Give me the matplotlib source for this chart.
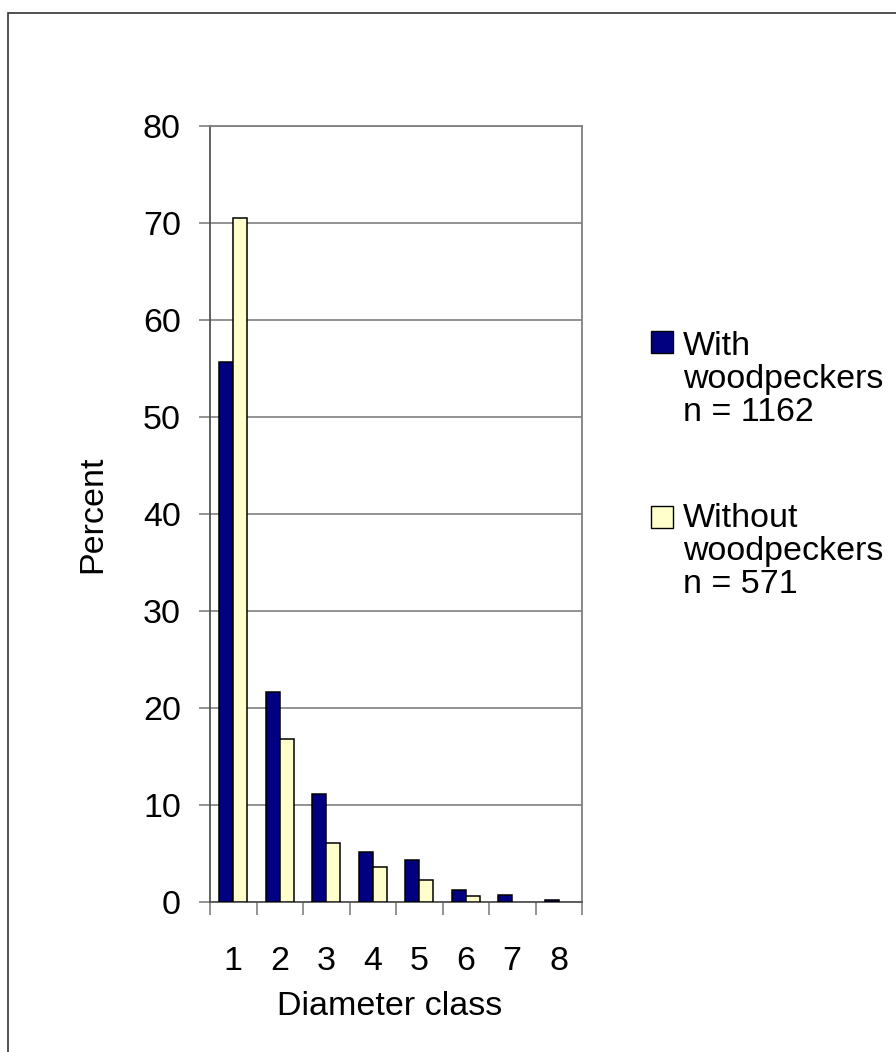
import numpy as np
import matplotlib.pyplot as plt
from matplotlib.patches import Rectangle

plt.rcParams['font.family'] = ['Liberation Sans', 'DejaVu Sans']

# Udział drzew w klasach średnicy (%)
classes = ['1', '2', '3', '4', '5', '6', '7', '8']
with_wp = [55.7, 21.7, 11.1, 5.2, 4.3, 1.2, 0.7, 0.2]
without_wp = [70.5, 16.8, 6.1, 3.6, 2.3, 0.65, 0.0, 0.0]
legend_labels = ['With\nwoodpeckers\nn = 1162', 'Without\nwoodpeckers\nn = 571']
yticks = [0, 10, 20, 30, 40, 50, 60, 70, 80]

navy = '#000080'
cream = '#FFFFCC'
grey = '#808080'
fs = 24.5

fig = plt.figure(figsize=(8.96, 10.52), dpi=100)
W, H = 896, 1052

# ramka wokół całego wykresu (ucięta z prawej i na dole)
fig.patches.append(Rectangle((8 / W, -0.1), 1.2, 1 - 12.5 / H + 0.1,
                             transform=fig.transFigure, fill=False,
                             edgecolor='#333333', lw=1.2))

ax = fig.add_axes([210 / W, 1 - 902 / H, 372 / W, 776 / H])

x = np.arange(len(classes))
w = 0.3
lw_a = [1.1 if v > 0 else 0 for v in with_wp]
lw_b = [1.1 if v > 0 else 0 for v in without_wp]
ax.bar(x - w / 2, with_wp, w, color=navy, edgecolor='black', lw=lw_a, zorder=3)
ax.bar(x + w / 2, without_wp, w, color=cream, edgecolor='black', lw=lw_b, zorder=3)

ax.set_xlim(-0.5, len(classes) - 0.5)
ax.set_ylim(0, 80)
ax.set_yticks(yticks)
ax.set_yticklabels([str(t) for t in yticks], fontsize=fs)
ax.set_xticks(x)
ax.set_xticklabels(classes, fontsize=fs)
ax.set_xticks(np.arange(len(classes) + 1) - 0.5, minor=True)

ax.tick_params(axis='x', which='major', length=0, pad=32)
ax.tick_params(axis='x', which='minor', length=9, width=1.2, color=grey, direction='out')
ax.tick_params(axis='y', length=8, width=1.2, color=grey, pad=13)

ax.yaxis.grid(True, color=grey, lw=1.2, zorder=0)
for s in ax.spines.values():
    s.set_color(grey)
    s.set_linewidth(1.3)
ax.spines['left'].set_color('#555555')
ax.spines['bottom'].set_color('#555555')

ax.set_ylabel('Percent', fontsize=fs)
ax.yaxis.set_label_coords(-0.274, 0.5)
ax.set_xlabel('Diameter class', fontsize=fs)
ax.xaxis.set_label_coords((390 - 210) / 372, -(991 - 902) / 776)

# legenda rysowana ręcznie: kwadrat przy pierwszym wierszu opisu
legend_colors = [navy, cream]
box_top = [331, 506]
last_baseline = [421, 593]
for lab, col, bt, bl in zip(legend_labels, legend_colors, box_top, last_baseline):
    fig.patches.append(Rectangle((651 / W, 1 - (bt + 22) / H), 22 / W, 22 / H,
                                 transform=fig.transFigure, facecolor=col,
                                 edgecolor='black', lw=1.0))
    fig.text(683 / W, 1 - bl / H, lab, fontsize=fs, va='baseline', ha='left',
             linespacing=1.08)

fig.savefig('out.png', dpi=100)
